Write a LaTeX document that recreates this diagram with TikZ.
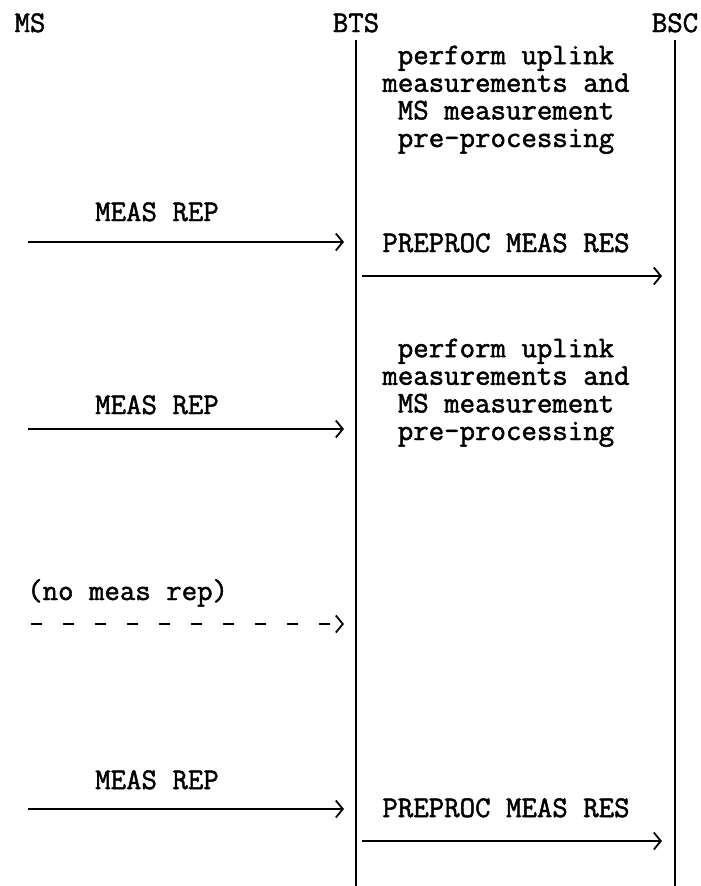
\documentclass[tikz,border=0pt]{standalone}
\usepackage{fontspec}
\newfontfamily\seqfont{Latin Modern Mono}[FakeBold=1.6]
\usetikzlibrary{arrows.meta}

\begin{document}
\begin{tikzpicture}[x=1pt, y=-1pt,
	every node/.style={font=\fontsize{30}{27.6}\selectfont\seqfont, inner sep=0pt},
	head/.style={anchor=base},
	msg/.style={anchor=base},
	task/.style={anchor=base, align=center},
	life/.style={line width=1.8pt},
	sig/.style={line width=1.8pt, -{Straight Barb[length=7pt, width=17pt]}},
	nosig/.style={sig, dash pattern=on 11pt off 21pt}]
\useasboundingbox (0,0) rectangle (701,886);
\pgfmathsetmacro{\msX}{30}
\pgfmathsetmacro{\btsX}{356}
\pgfmathsetmacro{\bscX}{675}
\pgfmathsetmacro{\repX}{157}
\pgfmathsetmacro{\taskX}{506}

% Draw entities
\node[head] (ms) at (\msX, 32) {MS};
\node[head] (bts) at (\btsX, 32) {BTS};
\node[head] (bsc) at (\bscX, 32) {BSC};

% Draw lifelines
\coordinate (btstop) at (\btsX, 40);
\coordinate (btsbot) at (\btsX, 886);
\coordinate (bsctop) at (\bscX, 40);
\coordinate (bscbot) at (\bscX, 886);
\draw[life] (btstop) -- (btsbot);
\draw[life] (bsctop) -- (bscbot);

% Draw first period (base = last line)
\node[task] (proc1) at (\taskX, 147) {perform uplink\\measurements and\\MS measurement\\pre-processing};
\node[msg] (rep1) at (\repX, 221) {MEAS REP};
\coordinate (rep1a) at (28, 242);
\coordinate (rep1b) at (344, 242);
\draw[sig] (rep1a) -- (rep1b);
\node[msg] (res1) at (\taskX, 252) {PREPROC MEAS RES};
\coordinate (res1a) at (362, 276);
\coordinate (res1b) at (662, 276);
\draw[sig] (res1a) -- (res1b);

% Draw second period
\node[task] (proc2) at (\taskX, 440) {perform uplink\\measurements and\\MS measurement\\pre-processing};
\node[msg] (rep2) at (\repX, 414) {MEAS REP};
\coordinate (rep2a) at (28, 429);
\coordinate (rep2b) at (344, 429);
\draw[sig] (rep2a) -- (rep2b);

% Draw missing report
\node[msg, anchor=base west] (norep) at (27, 600) {(no meas rep)};
\coordinate (norepa) at (31, 624);
\coordinate (norepb) at (344, 624);
\draw[nosig] (norepa) -- (norepb);

% Draw third period
\node[msg] (rep3) at (\repX, 789) {MEAS REP};
\coordinate (rep3a) at (28, 809);
\coordinate (rep3b) at (344, 809);
\draw[sig] (rep3a) -- (rep3b);
\node[msg] (res3) at (\taskX, 817) {PREPROC MEAS RES};
\coordinate (res3a) at (362, 841);
\coordinate (res3b) at (662, 841);
\draw[sig] (res3a) -- (res3b);
\end{tikzpicture}
\end{document}
